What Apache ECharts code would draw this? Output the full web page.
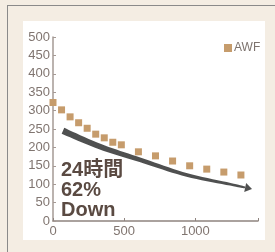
<!DOCTYPE html>
<html>
<head>
<meta charset="utf-8">
<script src="https://cdn.jsdelivr.net/npm/echarts@6/dist/echarts.min.js"></script>
<style>
  html, body { margin: 0; padding: 0; }
  body { width: 275px; height: 252px; background: #f4ede3; position: relative; overflow: hidden; }
  .frame { position: absolute; left: 7px; top: 5px; right: -2px; bottom: -2px; border: 1px solid #8a8a8a; }
  .panel { position: absolute; left: 23px; top: 21px; width: 242px; height: 219px; background: #fff; }
  #chart { position: absolute; left: 0; top: 0; width: 275px; height: 252px; }
</style>
</head>
<body>
<div class="frame"></div>
<div class="panel"></div>
<div id="chart"></div>
<script>
// minutes after start, AWF value
const minutes = [0, 60, 120, 180, 240, 300, 360, 420, 480, 600, 720, 840, 960, 1080, 1200, 1320];
const awf = [322, 302, 283, 267, 252, 236, 226, 214, 207, 188, 177, 163, 150, 141, 133, 125];
// trend arrow path (data coords)
const arrowPath = [[70, 245], [331, 202], [613, 166], [941, 125], [1268, 98], [1350, 91]];
const xTicks = [0, 500, 1000];

const chart = echarts.init(document.getElementById('chart'));

const labelFont = 'Liberation Sans, Arial, sans-serif';

const renderArrow = (params, api) => {
  const px = arrowPath.map(p => api.coord(p));
  // catmull-rom sampling of the centre line
  const pts = [];
  for (let i = 0; i < px.length - 1; i++) {
    const p0 = px[i - 1] || px[i], p1 = px[i], p2 = px[i + 1], p3 = px[i + 2] || px[i + 1];
    for (let k = 0; k < 10; k++) {
      const t = k / 10, t2 = t * t, t3 = t2 * t;
      pts.push([0, 1].map(j => 0.5 * ((2 * p1[j]) + (-p0[j] + p2[j]) * t +
        (2 * p0[j] - 5 * p1[j] + 4 * p2[j] - p3[j]) * t2 +
        (-p0[j] + 3 * p1[j] - 3 * p2[j] + p3[j]) * t3)));
    }
  }
  pts.push(px[px.length - 1]);
  const n = pts.length;
  const left = [], right = [];
  for (let i = 0; i < n; i++) {
    const a = pts[Math.max(0, i - 1)], b = pts[Math.min(n - 1, i + 1)];
    let dx = b[0] - a[0], dy = b[1] - a[1];
    const len = Math.hypot(dx, dy) || 1;
    dx /= len; dy /= len;
    const w = (6.5 - 4.8 * i / (n - 1)) / 2;
    left.push([pts[i][0] - dy * w, pts[i][1] + dx * w]);
    right.push([pts[i][0] + dy * w, pts[i][1] - dx * w]);
  }
  const e = pts[n - 1], f = pts[n - 3];
  let dx = e[0] - f[0], dy = e[1] - f[1];
  const len = Math.hypot(dx, dy) || 1;
  dx /= len; dy /= len;
  const head = [
    [e[0] + dx * 7, e[1] + dy * 7],
    [e[0] - dy * 4.5, e[1] + dx * 4.5],
    [e[0] + dy * 4.5, e[1] - dx * 4.5]
  ];
  return {
    type: 'group',
    children: [
      { type: 'polygon', shape: { points: left.concat(right.reverse()) }, style: { fill: '#4f5050' } },
      { type: 'polygon', shape: { points: head }, style: { fill: '#4f5050' } }
    ]
  };
};

const option = {
  animation: false,
  grid: { left: 53, right: 17, top: 37, bottom: 31, outerBoundsMode: 'none' },
  legend: {
    data: ['AWF'],
    left: 219,
    top: 37,
    icon: 'rect',
    itemWidth: 8,
    itemHeight: 8,
    itemGap: 2,
    itemStyle: { opacity: 1 },
    textStyle: { color: '#7d736e', fontSize: 12, fontFamily: labelFont, padding: [0, 0, 0, -3] }
  },
  xAxis: {
    type: 'value',
    min: 0,
    max: 1440,
    interval: 500,
    axisLine: { lineStyle: { color: '#8f847f', width: 1.5 } },
    axisTick: { inside: true, length: 3, lineStyle: { color: '#8f847f' } },
    axisLabel: {
      color: '#807570', fontSize: 13, fontFamily: labelFont, margin: 4,
      formatter: v => xTicks.includes(v) ? String(v) : ''
    },
    splitLine: { show: false }
  },
  yAxis: {
    type: 'value',
    min: 0,
    max: 500,
    interval: 50,
    axisLine: { show: true, lineStyle: { color: '#a59a95', width: 1.5 } },
    axisTick: { show: true, inside: true, length: 3, lineStyle: { color: '#a59a95' } },
    axisLabel: { color: '#807570', fontSize: 13, fontFamily: labelFont, margin: 3 },
    splitLine: { show: false }
  },
  graphic: [{
    type: 'text',
    left: 61,
    top: 160,
    z: 100,
    style: {
      text: '24時間\n62%\nDown',
      font: 'bold 20px "Liberation Sans", "Noto Sans CJK JP", sans-serif',
      lineHeight: 20,
      fill: '#5a4a42'
    }
  }],
  series: [
    {
      type: 'custom',
      name: 'trend',
      renderItem: renderArrow,
      data: [0],
      z: 1,
      silent: true
    },
    {
      name: 'AWF',
      type: 'scatter',
      symbol: 'rect',
      symbolSize: 7,
      itemStyle: { color: '#c69c6c', opacity: 1 },
      data: minutes.map((m, i) => [m, awf[i]]),
      z: 2
    }
  ]
};

chart.setOption(option);
</script>
</body>
</html>
